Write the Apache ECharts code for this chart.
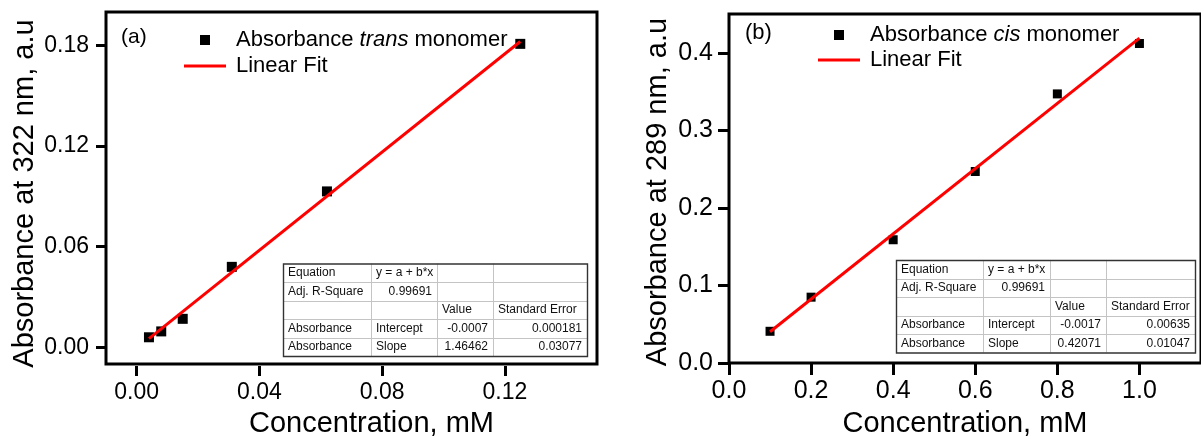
<!DOCTYPE html>
<html><head><meta charset="utf-8">
<script src="https://cdn.jsdelivr.net/npm/echarts@6/dist/echarts.min.js"></script>
<style>html,body{margin:0;padding:0;background:#fff}#c{width:1201px;height:443px}</style>
</head><body><div id="c"></div>
<script>
// ---------- Panel (a) data ----------
const concA = [0.004, 0.008, 0.015, 0.031, 0.062, 0.125];
const absA  = [0.006, 0.0095, 0.017, 0.048, 0.093, 0.181];
const fitXA = [0.004, 0.125];
const fitYA = [0.0052, 0.1824];
const xTicksA = [0, 0.04, 0.08, 0.12];
const yTicksA = [0, 0.06, 0.12, 0.18];
const tableA = [
  ['Equation', 'y = a + b*x', '', ''],
  ['Adj. R-Square', '0.99691', '', ''],
  ['', '', 'Value', 'Standard Error'],
  ['Absorbance', 'Intercept', '-0.0007', '0.000181'],
  ['Absorbance', 'Slope', '1.46462', '0.03077']
];
// ---------- Panel (b) data ----------
const concB = [0.1, 0.2, 0.4, 0.6, 0.8, 1.0];
const absB  = [0.041, 0.085, 0.159, 0.247, 0.347, 0.412];
const fitXB = [0.1, 1.0];
const fitYB = [0.0404, 0.419];
const xTicksB = [0, 0.2, 0.4, 0.6, 0.8, 1.0];
const yTicksB = [0, 0.1, 0.2, 0.3, 0.4];
const tableB = [
  ['Equation', 'y = a + b*x', '', ''],
  ['Adj. R-Square', '0.99691', '', ''],
  ['', '', 'Value', 'Standard Error'],
  ['Absorbance', 'Intercept', '-0.0017', '0.00635'],
  ['Absorbance', 'Slope', '0.42071', '0.01047']
];

const FONT = '"Liberation Sans", Arial, sans-serif';
const zip = (xs, ys) => xs.map((x, i) => [x, ys[i]]);

function buildTable(cols, top, rowH, rows) {
  const els = [];
  const left = cols[0], right = cols[cols.length - 1];
  const bottom = top + rowH * rows.length;
  els.push({type: 'rect', z: 100, shape: {x: left, y: top, width: right - left, height: bottom - top},
            style: {fill: '#fff', stroke: null}});
  for (let i = 1; i < rows.length; i++) {
    const y = Math.round(top + i * rowH) + 0.5;
    els.push({type: 'line', z: 101, shape: {x1: left, y1: y, x2: right, y2: y}, style: {stroke: '#c4c4c4', lineWidth: 1}});
  }
  for (let j = 1; j < cols.length - 1; j++) {
    const x = Math.round(cols[j]) + 0.5;
    els.push({type: 'line', z: 101, shape: {x1: x, y1: top, x2: x, y2: bottom}, style: {stroke: '#c4c4c4', lineWidth: 1}});
  }
  els.push({type: 'rect', z: 102, shape: {x: left + 0.5, y: top + 0.5, width: right - left, height: bottom - top},
            style: {fill: null, stroke: '#333', lineWidth: 1.4}});
  rows.forEach((row, r) => {
    row.forEach((txt, c) => {
      if (!txt) return;
      const rightAlign = (r === 1 && c === 1) || (r >= 3 && c >= 2);
      const x = rightAlign ? cols[c + 1] - 5 : cols[c] + 5;
      els.push({type: 'text', z: 103, style: {
        text: txt, x: x, y: top + (r + 0.5) * rowH,
        fontSize: 12, fontFamily: FONT, fill: '#111',
        align: rightAlign ? 'right' : 'left', verticalAlign: 'middle',
        textAlign: rightAlign ? 'right' : 'left', textVerticalAlign: 'middle'
      }});
    });
  });
  return els;
}

const legendRich = {
  f: {fontSize: 22, fontFamily: FONT, color: '#000', padding: [0, 0, 0, 5], lineHeight: 22},
  n: {fontSize: 22, fontFamily: FONT, color: '#000', lineHeight: 22},
  i: {fontSize: 22, fontFamily: FONT, color: '#000', fontStyle: 'italic', lineHeight: 22}
};
function legendFmt(name) {
  const m = name.match(/^(Absorbance )(trans|cis)( monomer)$/);
  if (m) return '{f|' + m[1] + '}{i|' + m[2] + '}{n|' + m[3] + '}';
  return '{f|' + name + '}';
}
const SQUARE = 'path://M0,0H10V10H0Z';
const DASH = 'path://M0,0H42V3H0Z';

function axisCommon(ticks, dec, fs) {
  return {
    type: 'value',
    axisLine: {show: false, onZero: false},
    splitLine: {show: false},
    axisTick: {show: true, inside: false, customValues: ticks, lineStyle: {color: '#000', width: 3}},
    axisLabel: {customValues: ticks, formatter: v => v.toFixed(dec), fontSize: fs, fontFamily: FONT, color: '#000'},
    nameLocation: 'middle',
    nameTextStyle: {fontSize: 29, fontFamily: FONT, color: '#000'}
  };
}

const option = {
  animation: false,
  backgroundColor: '#fff',
  grid: [
    {left: 106, top: 12, width: 491, height: 359, show: true, borderColor: '#000', borderWidth: 3, backgroundColor: 'transparent'},
    {left: 729, top: 14, width: 502.5, height: 356, show: true, borderColor: '#000', borderWidth: 3, backgroundColor: 'transparent'}
  ],
  xAxis: [
    Object.assign(axisCommon(xTicksA, 2, 23), {
      gridIndex: 0, min: -0.01, max: 0.15, position: 'bottom', offset: 2,
      name: 'Concentration, mM', nameGap: 42,
      nameTextStyle: {fontSize: 29, fontFamily: FONT, color: '#000', padding: [0, 0, 0, 40]}
    }),
    Object.assign(axisCommon(xTicksB, 1, 25), {
      gridIndex: 1, min: 0, max: 1.15, position: 'bottom',
      name: 'Concentration, mM', nameGap: 43
    })
  ],
  yAxis: [
    Object.assign(axisCommon(yTicksA, 2, 23), {
      gridIndex: 0, min: -0.01, max: 0.2, position: 'left',
      name: 'Absorbance at 322 nm, a.u', nameGap: 67,
      nameTextStyle: {fontSize: 29, fontFamily: FONT, color: '#000', padding: [0, 11, 0, 0]}
    }),
    Object.assign(axisCommon(yTicksB, 1, 25), {
      gridIndex: 1, min: 0, max: 0.45, position: 'left',
      name: 'Absorbance at 289 nm, a.u', nameGap: 57,
      nameTextStyle: {fontSize: 29, fontFamily: FONT, color: '#000', padding: [0, 7, 0, 0]}
    })
  ],
  legend: [
    {left: 184, top: 29, orient: 'vertical', padding: 0, itemWidth: 42, itemHeight: 10, itemGap: 4,
     symbolKeepAspect: true, formatter: legendFmt, textStyle: {rich: legendRich},
     data: [{name: 'Absorbance trans monomer', icon: SQUARE}, {name: 'Linear Fit', icon: DASH}]},
    {left: 818, top: 24, orient: 'vertical', padding: 0, itemWidth: 42, itemHeight: 10, itemGap: 3,
     symbolKeepAspect: true, formatter: legendFmt, textStyle: {rich: legendRich},
     data: [{name: 'Absorbance cis monomer', icon: SQUARE}, {name: 'Linear Fit', icon: DASH}]}
  ],
  series: [
    {name: 'Absorbance trans monomer', type: 'scatter', xAxisIndex: 0, yAxisIndex: 0, symbol: 'rect', symbolSize: 10,
     itemStyle: {color: '#000', opacity: 1}, z: 2, data: zip(concA, absA)},
    {name: 'Linear Fit', type: 'line', xAxisIndex: 0, yAxisIndex: 0, symbol: 'none', showSymbol: false,
     lineStyle: {color: '#ff0000', width: 3}, itemStyle: {color: '#ff0000'}, z: 3, data: zip(fitXA, fitYA)},
    {name: 'Absorbance cis monomer', type: 'scatter', xAxisIndex: 1, yAxisIndex: 1, symbol: 'rect', symbolSize: 9,
     itemStyle: {color: '#000', opacity: 1}, z: 2, data: zip(concB, absB)},
    {name: 'Linear Fit', type: 'line', xAxisIndex: 1, yAxisIndex: 1, symbol: 'none', showSymbol: false,
     lineStyle: {color: '#ff0000', width: 3}, itemStyle: {color: '#ff0000'}, z: 3, data: zip(fitXB, fitYB)}
  ],
  graphic: {elements: [
    {type: 'text', z: 100, style: {text: '(a)', x: 121, y: 37, fontSize: 21, fontFamily: FONT, fill: '#000',
      align: 'left', verticalAlign: 'middle', textAlign: 'left', textVerticalAlign: 'middle'}},
    {type: 'text', z: 100, style: {text: '(b)', x: 745, y: 33, fontSize: 22, fontFamily: FONT, fill: '#000',
      align: 'left', verticalAlign: 'middle', textAlign: 'left', textVerticalAlign: 'middle'}}
  ].concat(buildTable([283, 371, 437, 493, 587], 263.5, 18.5, tableA))
   .concat(buildTable([896, 983, 1050, 1106, 1195], 260, 18.5, tableB))}
};
option.xAxis[0].axisLabel.margin = 15; option.xAxis[0].axisTick.length = 10;
option.xAxis[1].axisLabel.margin = 16; option.xAxis[1].axisTick.length = 12;
option.yAxis[0].axisLabel.margin = 17; option.yAxis[0].axisTick.length = 10;
option.yAxis[1].axisLabel.margin = 16; option.yAxis[1].axisTick.length = 11;

const chart = echarts.init(document.getElementById('c'), null, {renderer: 'canvas'});
chart.setOption(option);
</script>
</body></html>
